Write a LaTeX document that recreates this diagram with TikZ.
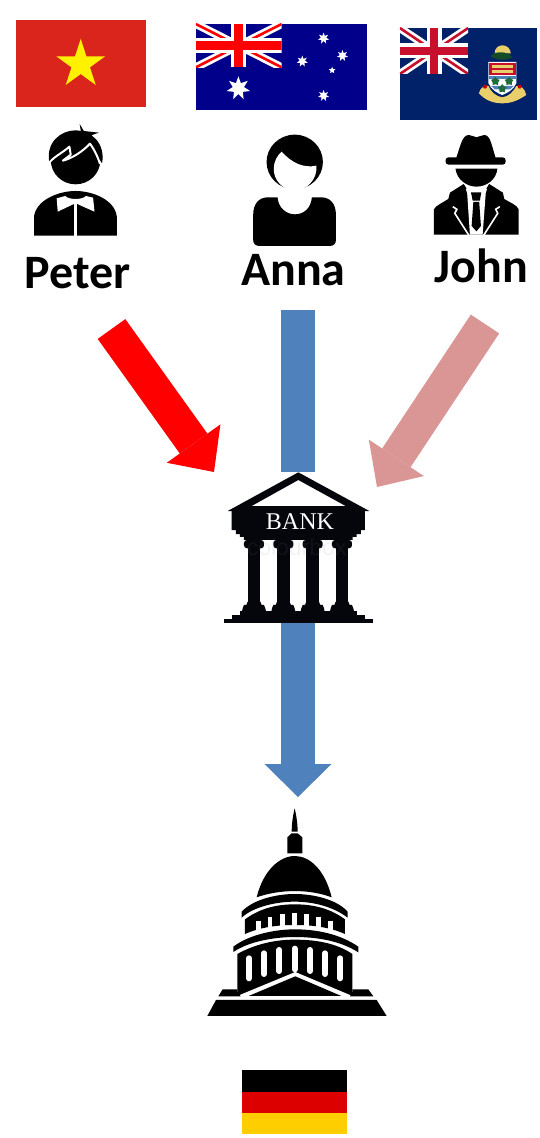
\documentclass[tikz,border=0pt]{standalone}
\usepackage{fontspec}
\setmainfont{Carlito}
\newfontfamily\bankfont{Liberation Serif}
\newfontfamily\wmfont{Liberation Sans}
\usetikzlibrary{arrows.meta,shapes.geometric}
\definecolor{vnred}{HTML}{DA251D}
\definecolor{aublue}{HTML}{00008B}
\definecolor{kyblue}{HTML}{012169}
\definecolor{kyred}{HTML}{C8102E}
\definecolor{arrowblue}{HTML}{4F81BD}
\definecolor{arrowpink}{HTML}{D99694}
\definecolor{bankblack}{HTML}{05060C}
\definecolor{degold}{HTML}{FFCE00}
\definecolor{dered}{HTML}{DD0000}
\definecolor{kygold}{HTML}{E8CF6A}
\definecolor{kygreen}{HTML}{1F6B3A}
\tikzset{
  namelabel/.style={font=\fontsize{48}{50}\selectfont\bfseries,anchor=base,inner sep=0pt,text=black},
  flagstar/.style={star,star points=#1,star point ratio=2.1,fill=white,inner sep=0pt,draw=none},
  shaft/.style={line width=34pt},
  whitebar/.style={draw=white,line cap=round},
}
\newcommand{\ujack}[6]{%
  \begin{scope}
    \clip (#1,#2) rectangle (#3,#4);
    \fill[#6] (#1,#2) rectangle (#3,#4);
    \draw[white,line width=8pt] (#1,#2) -- (#3,#4) (#1,#4) -- (#3,#2);
    \draw[#5,line width=2.6pt] (#1,#2) -- (#3,#4) (#1,#4) -- (#3,#2);
    \draw[white,line width=15pt] ({(#1+#3)/2},#2) -- ({(#1+#3)/2},#4) (#1,{(#2+#4)/2}) -- (#3,{(#2+#4)/2});
    \draw[#5,line width=8.5pt] ({(#1+#3)/2},#2) -- ({(#1+#3)/2},#4) (#1,{(#2+#4)/2}) -- (#3,{(#2+#4)/2});
  \end{scope}}
\begin{document}
\begin{tikzpicture}[x=1pt,y=-1pt]
\useasboundingbox (0,0) rectangle (539,1138);
\fill[white] (0,0) rectangle (539,1138);

% ---------- named anchor points
\coordinate (peterout) at (111.5,329);
\coordinate (johnout) at (485,324);
\coordinate (annaout) at (298,310);
\coordinate (bankleft) at (214,472);
\coordinate (bankright) at (377,487);
\coordinate (banktop) at (298,472);
\coordinate (bankbottom) at (298,620);
\coordinate (capitoltop) at (298,797);

% ---------- arrows
\draw[shaft,red,-{Triangle[length=35pt,width=66pt,line width=0pt]}] (peterout) -- (bankleft);
\draw[shaft,arrowpink,-{Triangle[length=35pt,width=66pt,line width=0pt]}] (johnout) -- (bankright);
\draw[shaft,arrowblue] (annaout) -- (banktop);
\draw[shaft,arrowblue,-{Triangle[length=33pt,width=67pt,line width=0pt]}] (bankbottom) -- (capitoltop);

% ---------- upper part, drawn on a grid of the top crop
\begin{scope}[x=.3435pt,y=-.3333pt]
  % Vietnam
  \fill[vnred] (47,60) rectangle (425,321);
  \node[star,star points=5,star point ratio=2.618,fill=yellow,inner sep=0pt,minimum size=51pt] (vnstar) at (235,193) {};
  % Australia
  \fill[aublue] (570,72) rectangle (1068,330);
  \ujack{570}{72}{820}{202}{red}{aublue}
  \node[flagstar=7,minimum size=24pt] (aubig) at (694,265) {};
  \node[flagstar=7,minimum size=11.5pt] (auone) at (942,115) {};
  \node[flagstar=7,minimum size=11.5pt] (autwo) at (997,167) {};
  \node[flagstar=7,minimum size=11.5pt] (authree) at (880,184) {};
  \node[flagstar=5,minimum size=7pt] (aufour) at (967,211) {};
  \node[flagstar=7,minimum size=11.5pt] (aufive) at (942,287) {};
  % Cayman Islands
  \fill[kyblue] (1164,84) rectangle (1562,360);
  \ujack{1164}{84}{1363}{222}{kyred}{kyblue}
  % coat of arms
  \fill[kygold] (1440,160) .. controls (1440,128) and (1485,128) .. (1487,160) -- cycle;
  \fill[kygreen!70!black] (1428,168) .. controls (1445,150) and (1480,155) .. (1492,172) .. controls (1475,182) and (1445,182) .. (1428,168) -- cycle;
  \fill[white] (1422,186) -- (1503,186) -- (1503,250) .. controls (1495,270) and (1475,280) .. (1462,285) .. controls (1450,280) and (1430,270) .. (1422,250) -- cycle;
  \fill[kyred] (1424,188) rectangle (1501,226);
  \fill[kygold] (1431,196) rectangle (1494,204);
  \fill[kygold] (1431,209) rectangle (1494,218);
  \fill[arrowblue] (1424,228) -- (1501,228) -- (1501,238) -- (1424,238) -- cycle;
  \fill[arrowblue] (1430,258) -- (1495,258) -- (1485,268) -- (1440,268) -- cycle;
  \node[star,star points=5,fill=kygreen,inner sep=0pt,minimum size=9pt] (kyone) at (1442,244) {};
  \node[star,star points=5,fill=kygreen,inner sep=0pt,minimum size=9pt] (kytwo) at (1482,244) {};
  \node[star,star points=5,fill=kygreen,inner sep=0pt,minimum size=9pt] (kythree) at (1462,266) {};
  \fill[kygold] (1394,280) .. controls (1398,262) and (1412,255) .. (1422,258) .. controls (1428,275) and (1445,290) .. (1462,292) .. controls (1480,290) and (1495,275) .. (1503,258) .. controls (1515,255) and (1528,265) .. (1532,285) .. controls (1510,300) and (1490,310) .. (1462,310) .. controls (1435,310) and (1412,300) .. (1394,280) -- cycle;
  \fill[red!80!black] (1412,260) circle[radius=6];
  \fill[red!80!black] (1513,260) circle[radius=6];

  % Peter
  \fill (220,481) circle[radius=72];
  \fill (144,488) .. controls (132,430) and (175,391) .. (220,391) .. controls (265,391) and (308,430) .. (297,490) .. controls (285,470) and (275,450) .. (262,432) -- (200,470) -- cycle;
  \fill (232,372) -- (244,393) -- (288,398) -- (268,405) -- (262,414) -- (240,402) -- (236,398) -- cycle;
  \draw[white,line width=2pt,line join=round] (143,488) .. controls (160,468) and (180,460) .. (202,440) -- (206,464) -- (183,482) .. controls (210,475) and (240,455) .. (262,431) .. controls (272,445) and (285,470) .. (291,492);
  \fill (99,707) -- (99,650) .. controls (105,600) and (170,573) .. (220,573) .. controls (270,573) and (335,600) .. (340,650) -- (340,707) -- cycle;
  \fill[white] (165,595) -- (190,588) .. controls (200,600) and (240,600) .. (250,588) -- (271,593) -- (275,635) -- (225,612) -- (215,612) -- (168,635) -- cycle;
  \draw[white,line width=3pt] (220,610) -- (220,710);

  % Anna
  \fill (858,486) circle[radius=82];
  \fill[white] (820,455) .. controls (850,490) and (885,505) .. (921,497) .. controls (925,540) and (890,572) .. (858,572) .. controls (825,572) and (795,540) .. (797,505) .. controls (797,485) and (808,465) .. (820,455) -- cycle;
  \fill (737,645) .. controls (737,610) and (755,592) .. (780,592) -- (808,592) .. controls (810,625) and (835,643) .. (858,643) .. controls (885,643) and (905,625) .. (908,592) -- (935,592) .. controls (960,592) and (978,610) .. (978,645) -- (978,720) .. controls (978,732) and (970,738) .. (960,738) -- (755,738) .. controls (745,738) and (737,732) .. (737,720) -- cycle;

  % John
  \fill (1328,474) .. controls (1340,440) and (1345,405) .. (1365,405) .. controls (1375,405) and (1380,412) .. (1387,412) .. controls (1394,412) and (1400,405) .. (1410,405) .. controls (1428,405) and (1432,440) .. (1443,474) -- cycle;
  \fill[rounded corners=3pt] (1297,472) rectangle (1472,494);
  \fill (1326,506) -- (1448,506) .. controls (1445,540) and (1415,560) .. (1387,560) .. controls (1360,560) and (1330,540) .. (1326,506) -- cycle;
  \fill (1263,704) -- (1263,628) .. controls (1270,615) and (1290,608) .. (1305,597) -- (1310,578) -- (1350,552) -- (1362,572) -- (1412,572) -- (1424,552) -- (1464,578) -- (1468,597) .. controls (1485,608) and (1505,615) .. (1510,628) -- (1510,704) -- cycle;
  \fill[white] (1356,566) -- (1418,566) -- (1414,580) -- (1405,704) -- (1368,704) -- (1360,580) -- cycle;
  \fill (1371,577) -- (1401,577) -- (1397,602) -- (1376,602) -- cycle;
  \fill (1378,606) -- (1395,606) -- (1400,678) -- (1387,694) -- (1373,678) -- cycle;
  \draw[white,line width=1.6pt,line join=miter] (1318,620) -- (1330,628) -- (1324,640) -- (1365,706);
  \draw[white,line width=1.6pt,line join=miter] (1455,620) -- (1443,628) -- (1449,640) -- (1408,706);
\end{scope}

% ---------- names
\node[namelabel] (peterlabel) at (77.5,288) {Peter};
\node[namelabel] (annalabel) at (293.5,285) {Anna};
\node[namelabel] (johnlabel) at (481.5,282) {John};

% ---------- bank
\begin{scope}[shift={(200,460)},x=.3333pt,y=-.3333pt,bankblack]
  \fill[even odd rule] (295,37) -- (83,153) -- (508,153) -- cycle (295,60) -- (155,138) -- (437,138) -- cycle;
  \fill (95,153) -- (495,153) -- (495,210) -- (483,210) -- (483,222) -- (470,222) -- (470,231) -- (458,231) -- (458,240) -- (132,240) -- (132,231) -- (120,231) -- (120,222) -- (108,222) -- (108,210) -- (95,210) -- cycle;
  \foreach \cx in {162,250,338,426}{
    \fill[rounded corners=3pt] (\cx-30,240) rectangle (\cx+30,265);
    \fill (\cx-19,255) rectangle (\cx+19,430);
    \fill (\cx-19,425) -- (\cx+19,425) -- (\cx+23,435) -- (\cx+30,435) -- (\cx+34,445) -- (\cx+38,465) -- (\cx-38,465) -- (\cx-34,445) -- (\cx-30,435) -- (\cx-23,435) -- cycle;
  }
  \fill (120,453) rectangle (470,465);
  \fill (97,465) rectangle (495,477);
  \fill (72,477) rectangle (518,488);
  \node[font=\bankfont\fontsize{24}{26}\selectfont,text=white,inner sep=0pt] (banktext) at (300,186) {BANK};
  \node[font=\wmfont\fontsize{23}{25}\selectfont,text=gray,opacity=.10,inner sep=0pt] (bankmark) at (290,263) {colourbox};
\end{scope}

% ---------- capitol
\begin{scope}[shift={(190,790)},x=.3333pt,y=-.3333pt]
  \fill (314,55) .. controls (308,80) and (305,105) .. (305,125) -- (323,125) .. controls (323,105) and (320,80) .. (314,55) -- cycle;
  \fill (292,190) -- (292,142) -- (305,130) -- (323,130) -- (337,142) -- (337,190) -- cycle;
  \fill (200,322) .. controls (220,240) and (270,198) .. (314,198) .. controls (360,198) and (405,240) .. (425,322) .. controls (360,297) and (270,297) .. (200,322) -- cycle;
  \fill (155,383) -- (155,365) .. controls (190,328) and (260,312) .. (314,312) .. controls (370,312) and (440,328) .. (473,365) -- (473,383) .. controls (430,350) and (370,335) .. (314,335) .. controls (260,335) and (190,350) .. (155,383) -- cycle;
  \fill (165,388) .. controls (210,355) and (260,343) .. (314,343) .. controls (370,343) and (420,355) .. (465,388) -- (465,432) .. controls (420,412) and (370,405) .. (314,405) .. controls (260,405) and (210,412) .. (165,432) -- cycle;
  \foreach \wx/\wa/\wb in {205/392/425,240/380/417,277/373/411,313/370/408,349/373/411,385/380/417,421/392/425}{
    \draw[whitebar,line width=4.6pt,line cap=butt] (\wx,\wa) -- (\wx,\wb);
  }
  \fill (130,486) -- (130,470) .. controls (180,432) and (260,418) .. (314,418) .. controls (380,418) and (450,432) .. (505,470) -- (505,487) .. controls (450,452) and (380,441) .. (314,441) .. controls (260,441) and (180,452) .. (130,486) -- cycle;
  \fill (142,618) -- (142,492) .. controls (200,460) and (260,449) .. (314,449) .. controls (380,449) and (440,460) .. (487,492) -- (487,618) -- cycle;
  \foreach \wx/\wa/\wb in {177/505/565,222/490/552,268/480/543,314/476/538,360/480/543,405/490/552,451/505/565}{
    \draw[whitebar,line width=6pt] (\wx,\wa) -- (\wx,\wb);
  }
  \fill[white] (142,618) -- (316,546) -- (487,618) -- (487,622) -- (142,622) -- cycle;
  \fill (176,618) -- (316,559) -- (454,618) -- cycle;
  \fill (98,598) -- (142,598) -- (142,606) -- (152,619) -- (85,619) -- cycle;
  \fill (487,598) -- (535,598) -- (550,619) -- (480,619) -- (487,606) -- cycle;
  \fill (78,630) -- (560,630) -- (590,678) -- (52,678) -- cycle;
\end{scope}

% ---------- Germany
\fill[black] (242,1070) rectangle (347,1091.5);
\fill[dered] (242,1091.5) rectangle (347,1113);
\fill[degold] (242,1113) rectangle (347,1134);
\end{tikzpicture}
\end{document}
